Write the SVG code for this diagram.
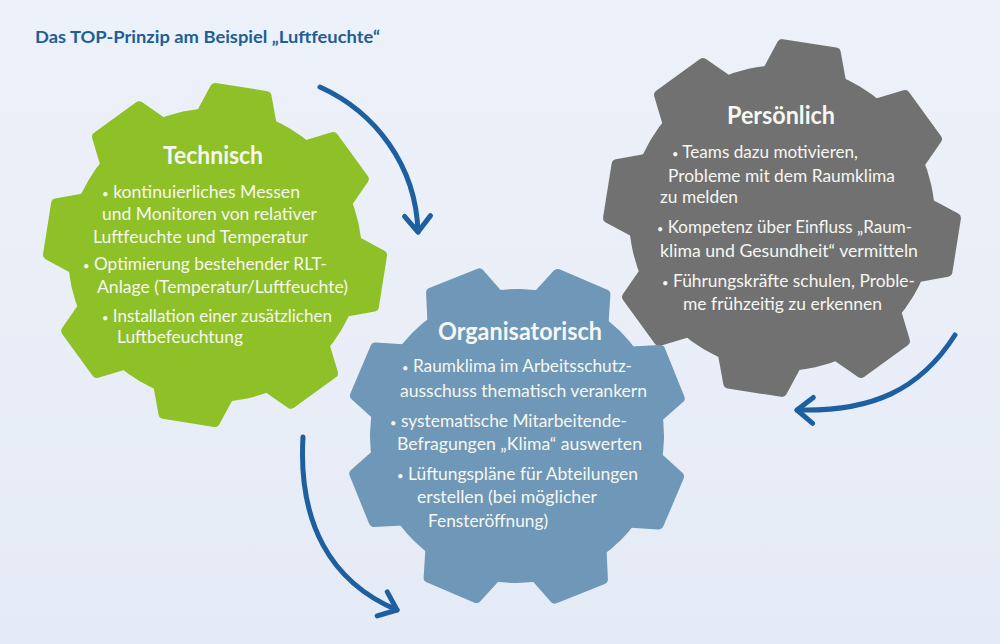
<svg xmlns="http://www.w3.org/2000/svg" xmlns:xlink="http://www.w3.org/1999/xlink" width="1000" height="644" viewBox="0 0 1000 644">
<defs>
<linearGradient id="bg" x1="0" y1="0" x2="0" y2="1">
<stop offset="0" stop-color="#EDF1F9"/>
<stop offset="1" stop-color="#E5EBF6"/>
</linearGradient>
<path id="tooth" d="M128,-39 L165,-26 L165,26 L128,39 Z"/>
<marker id="arr" viewBox="-22 -18 28 36" refX="0" refY="0" markerWidth="28" markerHeight="36" markerUnits="userSpaceOnUse" orient="auto">
<path d="M-16,-13 L0,0 L-16,13" fill="none" stroke="#1E5FA0" stroke-width="5" stroke-linecap="round" stroke-linejoin="round"/>
</marker>
<style>
.green{fill:#8EC027;stroke:#8EC027;stroke-width:10;stroke-linejoin:round}
.blue{fill:#6F97B7;stroke:#6F97B7;stroke-width:10;stroke-linejoin:round}
.gray{fill:#717171;stroke:#717171;stroke-width:10;stroke-linejoin:round}
text{font-family:Lato,"Open Sans","Liberation Sans",sans-serif;fill:#F6F7F2}
.h{font-size:25px;font-weight:bold}
.b{font-size:17px}
.d{font-size:11px}
.title{font-size:17px;font-weight:bold;fill:#1E5E96}
.conn{fill:none;stroke:#1E5FA0;stroke-width:5;stroke-linecap:round}
</style>
</defs>
<rect x="0" y="0" width="1000" height="644" fill="url(#bg)"/>
<text class="title" x="35" y="43" textLength="345" lengthAdjust="spacingAndGlyphs">Das TOP-Prinzip am Beispiel „Luftfeuchte“</text>

<g id="gear-technisch">
<g class="green" transform="translate(215,255) rotate(-81)">
<circle r="142"/>
<use xlink:href="#tooth"/>
<use xlink:href="#tooth" transform="rotate(45)"/>
<use xlink:href="#tooth" transform="rotate(90)"/>
<use xlink:href="#tooth" transform="rotate(135)"/>
<use xlink:href="#tooth" transform="rotate(180)"/>
<use xlink:href="#tooth" transform="rotate(225)"/>
<use xlink:href="#tooth" transform="rotate(270)"/>
<use xlink:href="#tooth" transform="rotate(315)"/>
</g>
<text class="h" x="163" y="164" textLength="100" lengthAdjust="spacingAndGlyphs">Technisch</text>
<text class="b" x="102" y="198" textLength="198" lengthAdjust="spacingAndGlyphs"><tspan class="d">•</tspan> kontinuierliches Messen</text>
<text class="b" x="102" y="220" textLength="215" lengthAdjust="spacingAndGlyphs">und Monitoren von relativer</text>
<text class="b" x="93" y="243" textLength="215" lengthAdjust="spacingAndGlyphs">Luftfeuchte und Temperatur</text>
<text class="b" x="83" y="270" textLength="244" lengthAdjust="spacingAndGlyphs"><tspan class="d">•</tspan> Optimierung bestehender RLT-</text>
<text class="b" x="97" y="293" textLength="251" lengthAdjust="spacingAndGlyphs">Anlage (Temperatur/Luftfeuchte)</text>
<text class="b" x="102" y="322" textLength="230" lengthAdjust="spacingAndGlyphs"><tspan class="d">•</tspan> Installation einer zusätzlichen</text>
<text class="b" x="117" y="343" textLength="126" lengthAdjust="spacingAndGlyphs">Luftbefeuchtung</text>
</g>

<g id="gear-persoenlich">
<g class="gray" transform="translate(782,218) rotate(-81) scale(1.04)">
<circle r="142"/>
<use xlink:href="#tooth"/>
<use xlink:href="#tooth" transform="rotate(45)"/>
<use xlink:href="#tooth" transform="rotate(90)"/>
<use xlink:href="#tooth" transform="rotate(135)"/>
<use xlink:href="#tooth" transform="rotate(180)"/>
<use xlink:href="#tooth" transform="rotate(225)"/>
<use xlink:href="#tooth" transform="rotate(270)"/>
<use xlink:href="#tooth" transform="rotate(315)"/>
</g>
<text class="h" x="727" y="124" textLength="108" lengthAdjust="spacingAndGlyphs">Persönlich</text>
<text class="b" x="672" y="158" textLength="186" lengthAdjust="spacingAndGlyphs"><tspan class="d">•</tspan> Teams dazu motivieren,</text>
<text class="b" x="668" y="182" textLength="227" lengthAdjust="spacingAndGlyphs">Probleme mit dem Raumklima</text>
<text class="b" x="660" y="203" textLength="78" lengthAdjust="spacingAndGlyphs">zu melden</text>
<text class="b" x="657" y="233" textLength="255" lengthAdjust="spacingAndGlyphs"><tspan class="d">•</tspan> Kompetenz über Einfluss „Raum-</text>
<text class="b" x="660" y="257" textLength="258" lengthAdjust="spacingAndGlyphs">klima und Gesundheit“ vermitteln</text>
<text class="b" x="662" y="287" textLength="253" lengthAdjust="spacingAndGlyphs"><tspan class="d">•</tspan> Führungskräfte schulen, Proble-</text>
<text class="b" x="683" y="310" textLength="199" lengthAdjust="spacingAndGlyphs">me frühzeitig zu erkennen</text>
</g>

<g id="gear-organisatorisch">
<g class="blue" transform="translate(517,436) rotate(-67)">
<circle r="142"/>
<use xlink:href="#tooth"/>
<use xlink:href="#tooth" transform="rotate(45)"/>
<use xlink:href="#tooth" transform="rotate(90)"/>
<use xlink:href="#tooth" transform="rotate(135)"/>
<use xlink:href="#tooth" transform="rotate(180)"/>
<use xlink:href="#tooth" transform="rotate(225)"/>
<use xlink:href="#tooth" transform="rotate(270)"/>
<use xlink:href="#tooth" transform="rotate(315)"/>
</g>
<text class="h" x="438" y="340" textLength="164" lengthAdjust="spacingAndGlyphs">Organisatorisch</text>
<text class="b" x="402" y="372" textLength="230" lengthAdjust="spacingAndGlyphs"><tspan class="d">•</tspan> Raumklima im Arbeitsschutz-</text>
<text class="b" x="400" y="397" textLength="247" lengthAdjust="spacingAndGlyphs">ausschuss thematisch verankern</text>
<text class="b" x="390" y="427" textLength="237" lengthAdjust="spacingAndGlyphs"><tspan class="d">•</tspan> systematische Mitarbeitende-</text>
<text class="b" x="397" y="450" textLength="245" lengthAdjust="spacingAndGlyphs">Befragungen „Klima“ auswerten</text>
<text class="b" x="397" y="480" textLength="241" lengthAdjust="spacingAndGlyphs"><tspan class="d">•</tspan> Lüftungspläne für Abteilungen</text>
<text class="b" x="417" y="503" textLength="180" lengthAdjust="spacingAndGlyphs">erstellen (bei möglicher</text>
<text class="b" x="428" y="527" textLength="120" lengthAdjust="spacingAndGlyphs">Fensteröffnung)</text>
</g>

<g id="connectors">
<path class="conn" d="M320,87 C375,112 416,165 418,232" marker-end="url(#arr)"/>
<path class="conn" d="M303,437 C298,522 330,582 397,610" marker-end="url(#arr)"/>
<path class="conn" d="M955,335 C920,390 872,412 797,410" marker-end="url(#arr)"/>
</g>
</svg>
